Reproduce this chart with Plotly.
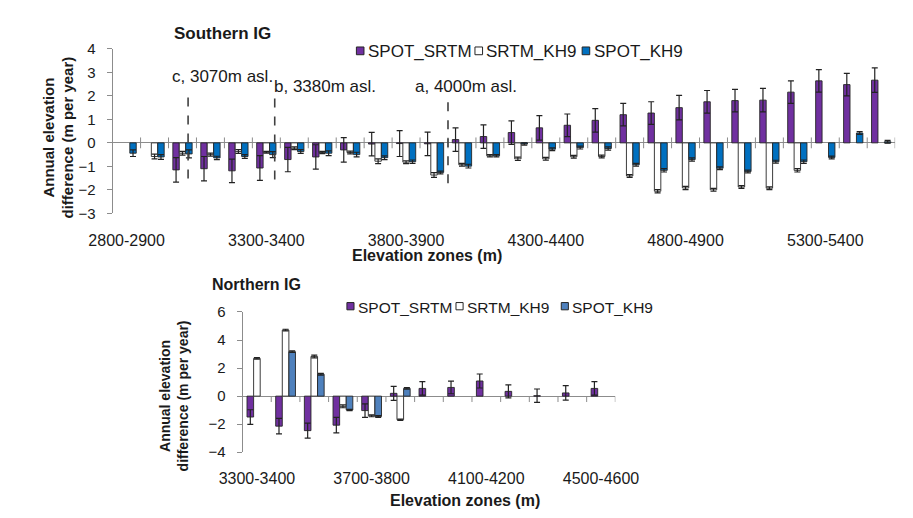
import plotly.graph_objects as go

# ---------------- data ----------------
south_cats = ["2800-2900", "2900-3000", "3000-3100", "3100-3200", "3200-3300", "3300-3400",
              "3400-3500", "3500-3600", "3600-3700", "3700-3800", "3800-3900", "3900-4000",
              "4000-4100", "4100-4200", "4200-4300", "4300-4400", "4400-4500", "4500-4600",
              "4600-4700", "4700-4800", "4800-4900", "4900-5000", "5000-5100", "5100-5200",
              "5200-5300", "5300-5400", "5400-5500", "5500-5600"]
south_tick_labels = ["2800-2900", "3300-3400", "3800-3900", "4300-4400", "4800-4900", "5300-5400"]

south_spot_srtm = [None, None, -1.15, -1.10, -1.19, -1.07, -0.71, -0.60, -0.30, -0.05, -0.03, -0.04,
                   0.14, 0.27, 0.44, 0.64, 0.75, 0.96, 1.20, 1.27, 1.50, 1.75, 1.80, 1.82,
                   2.16, 2.64, 2.48, 2.67]
south_spot_srtm_err = [None, None, 0.52, 0.52, 0.50, 0.53, 0.52, 0.52, 0.52, 0.50, 0.55, 0.50,
                       0.50, 0.50, 0.50, 0.52, 0.48, 0.50, 0.48, 0.48, 0.52, 0.48, 0.48, 0.50,
                       0.48, 0.48, 0.48, 0.52]
south_srtm_kh9 = [None, -0.58, -0.44, -0.50, -0.37, -0.40, -0.23, -0.41, -0.41, -0.78, -0.82, -1.37,
                  -0.93, -0.55, -0.68, -0.68, -0.59, -0.58, -1.41, -2.06, -1.92, -2.00, -1.88, -1.93,
                  -1.17, None, None, None]
south_srtm_kh9_err = [None, 0.10, 0.08, 0.06, 0.08, 0.04, 0.06, 0.05, 0.06, 0.10, 0.06, 0.10,
                      0.06, 0.05, 0.07, 0.06, 0.06, 0.06, 0.06, 0.07, 0.07, 0.06, 0.06, 0.06,
                      0.07, None, None, None]
south_spot_kh9 = [-0.44, -0.60, -0.47, -0.64, -0.58, -0.50, -0.37, -0.44, -0.50, -0.63, -0.80, -1.26,
                  -0.99, -0.55, -0.05, -0.27, -0.20, -0.24, -0.93, -1.17, -0.71, -1.08, -1.22, -0.80,
                  -0.80, -0.62, 0.42, 0.05]
south_spot_kh9_err = [0.14, 0.10, 0.17, 0.07, 0.08, 0.13, 0.08, 0.10, 0.10, 0.08, 0.07, 0.06,
                      0.08, 0.05, 0.05, 0.06, 0.06, 0.07, 0.06, 0.07, 0.07, 0.06, 0.06, 0.06,
                      0.07, 0.06, 0.06, 0.06]

north_cats = ["3300-3400", "3400-3500", "3500-3600", "3600-3700", "3700-3800", "3800-3900",
              "3900-4000", "4000-4100", "4100-4200", "4200-4300", "4300-4400", "4400-4500",
              "4500-4600"]
north_tick_labels = ["3300-3400", "3700-3800", "4100-4200", "4500-4600"]

north_spot_srtm = [-1.49, -2.14, -2.46, -2.07, -1.03, 0.20, 0.55, 0.62, 1.08, 0.34, 0.03, 0.23, 0.55]
north_spot_srtm_err = [0.52, 0.55, 0.53, 0.55, 0.48, 0.50, 0.48, 0.45, 0.50, 0.46, 0.48, 0.52, 0.48]
north_srtm_kh9 = [2.69, 4.71, 2.83, -0.73, -1.40, -1.68, None, None, None, None, None, None, None]
north_srtm_kh9_err = [0.06, 0.06, 0.10, 0.10, 0.07, 0.05, None, None, None, None, None, None, None]
north_spot_kh9 = [None, 3.17, 1.56, -0.99, -1.45, 0.55, None, None, None, None, None, None, None]
north_spot_kh9_err = [None, 0.06, 0.06, 0.05, 0.07, 0.06, None, None, None, None, None, None, None]

series_names = ["SPOT_SRTM", "SRTM_KH9", "SPOT_KH9"]

# elevation markers (m asl.) in southern panel
markers = [("c, 3070m asl.", 3070), ("b, 3380m asl.", 3380), ("a, 4000m asl.", 4000)]
south_start_elev = 2800
zone_step = 100

# ---------------- style ----------------
W, H = 913, 518
FONT = "Liberation Sans, Arial, sans-serif"
PURPLE = "#7030A0"
BLUE_S = "#0070C0"
BLUE_N = "#4F81BD"
OUTLINE = "#262626"
AXIS = "#8C8C8C"
TXT = "#1a1a1a"


def px_x(x):
    return x / W


def px_y(y):
    return 1 - y / H


def err(arr):
    return dict(type="data", array=arr, symmetric=True, color="#222222", thickness=1.2, width=3)


fig = go.Figure()

colors_s = [PURPLE, "#FFFFFF", BLUE_S]
colors_n = [PURPLE, "#FFFFFF", BLUE_N]
south_vals = [(south_spot_srtm, south_spot_srtm_err), (south_srtm_kh9, south_srtm_kh9_err),
              (south_spot_kh9, south_spot_kh9_err)]
north_vals = [(north_spot_srtm, north_spot_srtm_err), (north_srtm_kh9, north_srtm_kh9_err),
              (north_spot_kh9, north_spot_kh9_err)]

for name, (vals, e), col in zip(series_names, south_vals, colors_s):
    fig.add_trace(go.Bar(x=south_cats, y=vals, name=name, error_y=err(e), showlegend=False,
                         marker=dict(color=col, line=dict(color=OUTLINE, width=0.9)),
                         xaxis="x", yaxis="y"))
for name, (vals, e), col in zip(series_names, north_vals, colors_n):
    fig.add_trace(go.Bar(x=north_cats, y=vals, name=name, error_y=err(e), showlegend=False,
                         marker=dict(color=col, line=dict(color=OUTLINE, width=0.9)),
                         xaxis="x2", yaxis="y2"))

common_x = dict(type="category", showline=False, showgrid=False, zeroline=False,
                ticks="outside", ticklen=12, tickcolor="rgba(0,0,0,0)",
                tickfont=dict(family=FONT, size=16, color=TXT))
common_y = dict(showline=True, linecolor=AXIS, linewidth=1, showgrid=False,
                zeroline=True, zerolinecolor=AXIS, zerolinewidth=1,
                ticks="outside", ticklen=5, tickcolor=AXIS, ticklabelstandoff=8,
                tickfont=dict(family=FONT, size=15, color=TXT))

fig.update_layout(
    width=W, height=H, margin=dict(l=0, r=0, t=0, b=0),
    paper_bgcolor="white", plot_bgcolor="white",
    barmode="group", bargap=0.31, bargroupgap=0,
    font=dict(family=FONT, color=TXT),
    xaxis=dict(common_x, domain=[px_x(85), px_x(910)], anchor="y",
               range=[-0.5, len(south_cats) - 0.5],
               tickvals=south_tick_labels),
    yaxis=dict(common_y, domain=[px_y(203), px_y(33)], anchor="x",
               range=[-3, 4], dtick=1),
    xaxis2=dict(common_x, domain=[px_x(222), px_x(615)], anchor="y2",
                range=[-0.5, len(north_cats) - 0.5],
                tickvals=north_tick_labels),
    yaxis2=dict(common_y, domain=[px_y(450), px_y(305)], anchor="x2",
                range=[-4, 6], dtick=2),
)

# category boundary tick marks on the zero line
shapes = []
for i in range(len(south_cats)):
    shapes.append(dict(type="line", xref="x", yref="y", x0=i + 0.5, x1=i + 0.5, y0=-0.23, y1=0.23,
                       line=dict(color=AXIS, width=1)))
for i in range(len(north_cats)):
    shapes.append(dict(type="line", xref="x2", yref="y2", x0=i + 0.5, x1=i + 0.5, y0=-0.42, y1=0,
                       line=dict(color=AXIS, width=1)))

annotations = []

# dashed elevation markers
label_pos = [(145, 62, 77, 167), (253, 72, 79, 168), (402, 72, 83, 172)]
for (txt, elev), (lx, ly, y_top, y_bot) in zip(markers, label_pos):
    xpos = (elev - south_start_elev) / zone_step - 0.5
    shapes.append(dict(type="line", xref="x", yref="paper", x0=xpos, x1=xpos,
                       y0=px_y(y_bot), y1=px_y(y_top),
                       line=dict(color="#404040", width=1.6, dash="dash")))
    annotations.append(dict(text=txt, xref="paper", yref="paper", x=px_x(lx), y=px_y(ly),
                            xanchor="left", yanchor="middle", showarrow=False,
                            font=dict(family=FONT, size=17, color=TXT)))

# legends (Excel style: small square directly followed by the label)
legend_specs = [
    (colors_s, [342, 467, 580], 35, 8, 17),
    (colors_n, [332, 447, 558], 299, 7.5, 15.5),
]
for cols, xs, yc, sz, fs in legend_specs:
    for name, col, x0 in zip(series_names, cols, xs):
        shapes.append(dict(type="rect", xref="paper", yref="paper",
                           x0=px_x(x0), x1=px_x(x0 + sz),
                           y0=px_y(yc + sz / 2), y1=px_y(yc - sz / 2),
                           fillcolor=col, line=dict(color=OUTLINE, width=1)))
        annotations.append(dict(text=name, xref="paper", yref="paper",
                                x=px_x(x0 + sz + 2), y=px_y(yc + 1),
                                xanchor="left", yanchor="middle", showarrow=False,
                                font=dict(family=FONT, size=fs, color=TXT)))

titles = [
    dict(text="<b>Southern IG</b>", x=px_x(201), y=px_y(17), font=dict(size=17)),
    dict(text="<b>Northern IG</b>", x=px_x(237), y=px_y(277), font=dict(size=16)),
    dict(text="<b>Annual elevation<br>difference (m per year)</b>", x=px_x(28), y=px_y(125),
         textangle=-90, font=dict(size=15)),
    dict(text="<b>Annual elevation<br>difference (m per year)</b>", x=px_x(150), y=px_y(392),
         textangle=-90, font=dict(size=14)),
    dict(text="<b>Elevation zones (m)</b>", x=px_x(416), y=px_y(247), font=dict(size=16)),
    dict(text="<b>Elevation zones (m)</b>", x=px_x(456), y=px_y(500), font=dict(size=16)),
]
for a in titles:
    a.update(xref="paper", yref="paper", xanchor="center", yanchor="middle", showarrow=False)
    a["font"] = dict(family=FONT, color=TXT, **a["font"])
annotations += titles

fig.update_layout(shapes=shapes, annotations=annotations)
fig.write_html("out.html")
